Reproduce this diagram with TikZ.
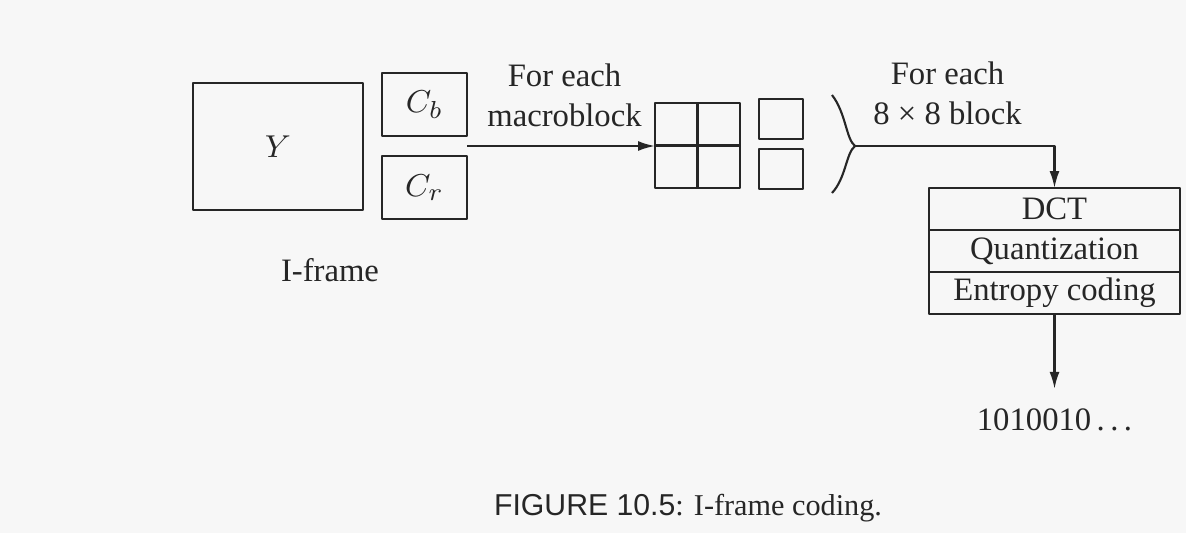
\documentclass[tikz,border=0pt]{standalone}
\usepackage{fontspec}
\setmainfont{Liberation Serif}
\setsansfont{Liberation Sans}
\usepackage{tikz}
\usetikzlibrary{arrows.meta,calc,positioning}
\tikzset{capt/.style={align=center,font=\fontsize{9.3}{11.4}\selectfont},
  blk/.style={draw,inner sep=0pt,outer sep=0pt},
  stage/.style={blk,minimum width=2.51cm,minimum height=0.42cm}}

\begin{document}
\begin{tikzpicture}[>={Latex[length=1.7mm,width=1mm]},line join=round,line width=0.6pt,
  black!85,font=\fontsize{9.3}{11.4}\selectfont]
\fill[black!3] (0,0) rectangle (11.86,5.33);
\useasboundingbox (0,0) rectangle (11.86,5.33);
% --- I-frame planes
\node[blk,minimum width=1.70cm,minimum height=1.27cm] (luma) at (2.78,3.865) {$Y$};
\node[blk,minimum width=0.85cm,minimum height=0.63cm] (cb) at (4.245,4.285) {$C_b$};
\node[blk,minimum width=0.85cm,minimum height=0.63cm] (cr) at (4.245,3.455) {$C_r$};
\node (iframe) at (3.30,2.63) {I-frame};
\coordinate (chroma) at ($(cb.south east)!0.5!(cr.north east)$);
% --- macroblock and its blocks
\node[capt] (permb) at (5.645,4.38) {For each\\ macroblock};
\node[blk,minimum size=0.85cm] (mb) at (6.975,3.875) {};
\draw (mb.north) -- (mb.south) (mb.west) -- (mb.east);
\node[blk,minimum width=0.44cm,minimum height=0.40cm] (cbblk) at (7.81,4.14) {};
\node[blk,minimum width=0.44cm,minimum height=0.40cm] (crblk) at (7.81,3.64) {};
\draw[->] (chroma) -- (chroma -| mb.west);
% --- brace over all six blocks
\coordinate (brtop) at (8.32,4.38); \coordinate (brbot) at (8.32,3.40); \coordinate (brtip) at (8.55,3.87);
\draw (brtop) .. controls (8.46,4.20) and (8.46,3.94) .. (brtip) .. controls (8.46,3.80) and (8.46,3.55) .. (brbot);
\node[capt] (perblk) at (9.475,4.40) {For each\\ 8 × 8 block};
% --- coding stages
\node[stage] (dct) at (10.545,3.24) {DCT};
\node[stage,below=0pt of dct] (quant) {Quantization};
\node[stage,below=0pt of quant] (ent) {Entropy coding};
\draw[->] (brtip) -| (dct.north);
\node[inner sep=0.19cm] (bits) at (10.545,1.13) {1010010\,.\,.\,.};
\draw[->] (ent.south) -- (bits.north);
% --- caption
\node[font=\fontsize{8.6}{10}\selectfont] (caption) at (6.88,0.245) {{\sffamily FIGURE 10.5}: I-frame coding.};
\end{tikzpicture}
\end{document}
